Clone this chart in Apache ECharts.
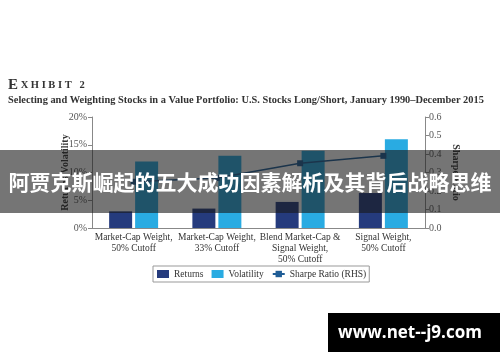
<!DOCTYPE html>
<html><head><meta charset="utf-8">
<script src="https://cdn.jsdelivr.net/npm/echarts@6/dist/echarts.min.js"></script>
<style>html,body{margin:0;padding:0;background:#fff}#c{width:500px;height:362px}</style>
</head><body><div id="c"></div>
<script>
const categories = ['Market-Cap Weight,\n50% Cutoff', 'Market-Cap Weight,\n33% Cutoff', 'Blend Market-Cap &\nSignal Weight,\n50% Cutoff', 'Signal Weight,\n50% Cutoff'];
const returns = [3.0, 3.5, 4.7, 6.3];
const volatility = [12.0, 13.0, 13.9, 16.0];
const sharpe = [0.25, 0.27, 0.35, 0.39];
const leftTicks = {min: 0, max: 20, interval: 5};
const rightTicks = {min: 0, max: 0.6, interval: 0.1};
const bannerText = '阿贾克斯崛起的五大成功因素解析及其背后战略思维';
const watermark = 'www.net--j9.com';

const serif = '"Liberation Serif", "DejaVu Serif", serif';
const chart = echarts.init(document.getElementById('c'), null, {renderer: 'canvas'});
chart.setOption({
  animation: false,
  textStyle: {fontFamily: serif},
  title: [{
    left: 8, top: 78, padding: 0,
    text: '{a|E}{b| X H I B I T   2}',
    textStyle: {rich: {a: {fontSize: 15, fontFamily: serif, color: '#333'}, b: {fontSize: 10.5, fontFamily: serif, color: '#333', fontWeight: 'bold'}}}
  }, {
    left: 8, top: 95, padding: 0,
    text: 'Selecting and Weighting Stocks in a Value Portfolio: U.S. Stocks Long/Short, January 1990–December 2015',
    textStyle: {fontSize: 10.4, fontWeight: 'bold', fontFamily: serif, color: '#333'}
  }],
  grid: {left: 92, right: 75, top: 117, bottom: 134},
  legend: {
    left: 153, top: 266, itemWidth: 12, itemHeight: 8, itemGap: 8,
    borderColor: '#999', borderWidth: 1, padding: [3, 3, 3, 4],
    textStyle: {fontSize: 9.5, fontFamily: serif, color: '#333'},
    data: [{name: 'Returns', icon: 'rect'}, {name: 'Volatility', icon: 'rect'}, {name: 'Sharpe Ratio (RHS)'}]
  },
  xAxis: {
    type: 'category', data: categories,
    axisLine: {lineStyle: {color: '#888'}},
    axisTick: {show: false},
    axisLabel: {fontSize: 9.5, lineHeight: 11, color: '#333', fontFamily: serif, margin: 4, interval: 0}
  },
  yAxis: [{
    type: 'value', min: leftTicks.min, max: leftTicks.max, interval: leftTicks.interval,
    name: 'Returns/Volatility', nameLocation: 'middle', nameGap: 22, nameRotate: 90, nameMoveOverlap: false,
    nameTextStyle: {fontSize: 10, fontWeight: 'bold', fontFamily: serif, color: '#333'},
    axisLine: {show: true, lineStyle: {color: '#888'}},
    axisTick: {show: true, length: 4, lineStyle: {color: '#888'}},
    splitLine: {show: false},
    axisLabel: {formatter: v => v + '%', fontSize: 10, color: '#555', fontFamily: serif, margin: 5}
  }, {
    type: 'value', position: 'right', min: rightTicks.min, max: rightTicks.max, interval: rightTicks.interval,
    name: 'Sharpe Ratio', nameLocation: 'middle', nameGap: 26, nameRotate: -90, nameMoveOverlap: false,
    nameTextStyle: {fontSize: 10, fontWeight: 'bold', fontFamily: serif, color: '#333'},
    axisLine: {show: true, lineStyle: {color: '#888'}},
    axisTick: {show: true, length: 4, lineStyle: {color: '#888'}},
    splitLine: {show: false},
    axisLabel: {formatter: v => v.toFixed(1), fontSize: 10, color: '#555', fontFamily: serif, margin: 4}
  }],
  series: [{
    name: 'Returns', type: 'bar', data: returns, barWidth: 23, barGap: '13%',
    itemStyle: {color: '#253b7d'}
  }, {
    name: 'Volatility', type: 'bar', data: volatility, barWidth: 23,
    itemStyle: {color: '#29abe2'}
  }, {
    name: 'Sharpe Ratio (RHS)', type: 'line', yAxisIndex: 1, data: sharpe,
    symbol: 'rect', symbolSize: 6,
    lineStyle: {color: '#1f5d96', width: 1.5}, itemStyle: {color: '#1f5d96'}
  }],
  graphic: [{
    type: 'rect', z: 100, shape: {x: 0, y: 150, width: 500, height: 63},
    style: {fill: 'rgba(25,25,25,0.6)'}
  }, {
    type: 'text', z: 101, x: 250, y: 182,
    style: {text: bannerText, fill: '#fff', font: 'bold 21px "Noto Sans CJK SC"', textAlign: 'center', textVerticalAlign: 'middle'}
  }, {
    type: 'rect', z: 100, shape: {x: 328, y: 313, width: 172, height: 39},
    style: {fill: '#000'}
  }, {
    type: 'text', z: 101, x: 410, y: 333,
    style: {text: watermark, fill: '#fff', font: 'bold 17px "Open Sans"', textAlign: 'center', textVerticalAlign: 'middle'}
  }]
});
</script></body></html>
